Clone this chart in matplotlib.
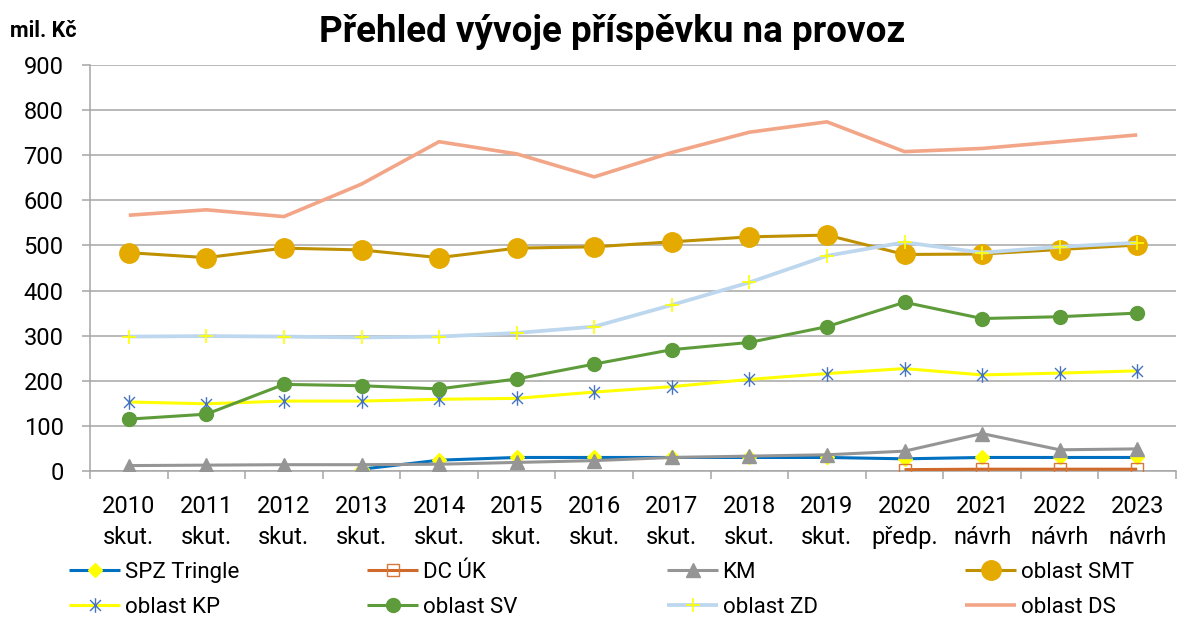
import numpy as np
import matplotlib
matplotlib.use("Agg")
import matplotlib.pyplot as plt
from matplotlib.path import Path

plt.rcParams['font.family'] = ['Roboto', 'DejaVu Sans']

years = ["2010", "2011", "2012", "2013", "2014", "2015", "2016",
         "2017", "2018", "2019", "2020", "2021", "2022", "2023"]
stages = ["skut.", "skut.", "skut.", "skut.", "skut.", "skut.", "skut.",
          "skut.", "skut.", "skut.", "předp.", "návrh", "návrh", "návrh"]
nan = np.nan
spz_tringle = [nan, nan, nan, 4, 24, 30, 30, 30, 30, 30, 27, 30, 30, 30]
dc_uk = [nan, nan, nan, nan, nan, nan, nan, nan, nan, nan, 3, 4, 4, 4]
km = [12, 13, 14, 14, 15, 19, 23, 30, 33, 36, 44, 83, 47, 49]
oblast_smt = [484, 473, 494, 490, 473, 494, 497, 508, 519, 523, 480, 481, 491, 501]
oblast_kp = [153, 149, 155, 155, 159, 161, 175, 187, 203, 216, 227, 213, 217, 222]
oblast_sv = [115, 126, 192, 189, 182, 204, 237, 269, 285, 320, 374, 338, 342, 350]
oblast_zd = [298, 299, 298, 296, 298, 306, 320, 368, 418, 477, 507, 484, 497, 506]
oblast_ds = [567, 579, 564, 636, 730, 703, 652, 706, 751, 774, 708, 715, 730, 745]

W, H = 1177, 619
fig = plt.figure(figsize=(W / 100, H / 100), dpi=100)
ax = fig.add_axes([90 / W, 1 - 471 / H, 1086 / W, (471 - 65) / H])

x = np.arange(len(years))

# asterisk marker: X plus vertical bar
ast = Path([(0, -1), (0, 1), (-0.75, -0.75), (0.75, 0.75), (-0.75, 0.75), (0.75, -0.75)],
           [Path.MOVETO, Path.LINETO, Path.MOVETO, Path.LINETO, Path.MOVETO, Path.LINETO])

lw = 2.2
series = [
    ("SPZ Tringle", spz_tringle, dict(color="#0070C0", lw=lw, marker="D", ms=7.5,
                                      mfc="#FFFF00", mec="#FFFF00")),
    ("DC ÚK", dc_uk, dict(color="#CF6A2A", lw=lw, marker="s", ms=9,
                          mfc="none", mec="#D8773A", mew=1.0)),
    ("KM", km, dict(color="#959595", lw=lw, marker="^", ms=10.5,
                    mfc="#959595", mec="#959595")),
    ("oblast SMT", oblast_smt, dict(color="#BF9000", lw=lw, marker="o", ms=14,
                                    mfc="#E4AA00", mec="#E4AA00")),
    ("oblast KP", oblast_kp, dict(color="#FFFF00", lw=lw, marker=ast, ms=10.5,
                                  mfc="none", mec="#4472C4", mew=1.0)),
    ("oblast SV", oblast_sv, dict(color="#5E9B3A", lw=lw, marker="o", ms=10,
                                  mfc="#5E9B3A", mec="#5E9B3A")),
    ("oblast ZD", oblast_zd, dict(color="#BDD7EE", lw=2.7, marker="+", ms=10,
                                  mec="#FFFF00", mew=1.2)),
    ("oblast DS", oblast_ds, dict(color="#F2A687", lw=2.6)),
]

handles = []
for i, (name, vals, kw) in enumerate(series):
    h, = ax.plot(x, vals, label=name, zorder=3 + i, solid_capstyle="butt", **kw)
    handles.append(h)

ax.set_xlim(-0.5, len(years) - 0.5)
ax.set_ylim(0, 900)
ax.set_yticks(np.arange(0, 901, 100))
ax.set_xticks(x)
ax.set_xticklabels([f"{y}\n{s}" for y, s in zip(years, stages)], linespacing=1.45)
ax.set_xticks(np.arange(-0.5, len(years), 1.0), minor=True)
ax.tick_params(axis="x", which="major", length=0, pad=17, labelsize=17, colors="black")
ax.tick_params(axis="x", which="minor", length=6, width=1.1, color="#A6A6A6")
ax.tick_params(axis="y", length=6, width=1.1, color="#A6A6A6", pad=13, labelsize=17)

ax.grid(axis="y", color="#A6A6A6", lw=1.1, zorder=0)
ax.set_axisbelow(True)
for s in ["top", "right"]:
    ax.spines[s].set_visible(False)
for s in ["left", "bottom"]:
    ax.spines[s].set_color("#A6A6A6")
    ax.spines[s].set_linewidth(1.1)

fig.text(612 / W, 1 - 32 / H, "Přehled vývoje příspěvku na provoz",
         ha="center", va="center", fontsize=26.5, fontweight="bold")
fig.text(10 / W, 1 - 31 / H, "mil. Kč", ha="left", va="center",
         fontsize=15.5, fontweight="bold")

col_x = [69, 367, 667, 965]
for c in range(4):
    hs = [handles[c], handles[c + 4]]
    leg = fig.legend(hs, [h.get_label() for h in hs], loc="center left",
                     bbox_to_anchor=(col_x[c] / W, 1 - 590 / H), frameon=False,
                     fontsize=16, borderpad=0, borderaxespad=0,
                     handlelength=2.3, handletextpad=0.2, labelspacing=0.62,
                     numpoints=1)

fig.savefig("out.png", dpi=100)
